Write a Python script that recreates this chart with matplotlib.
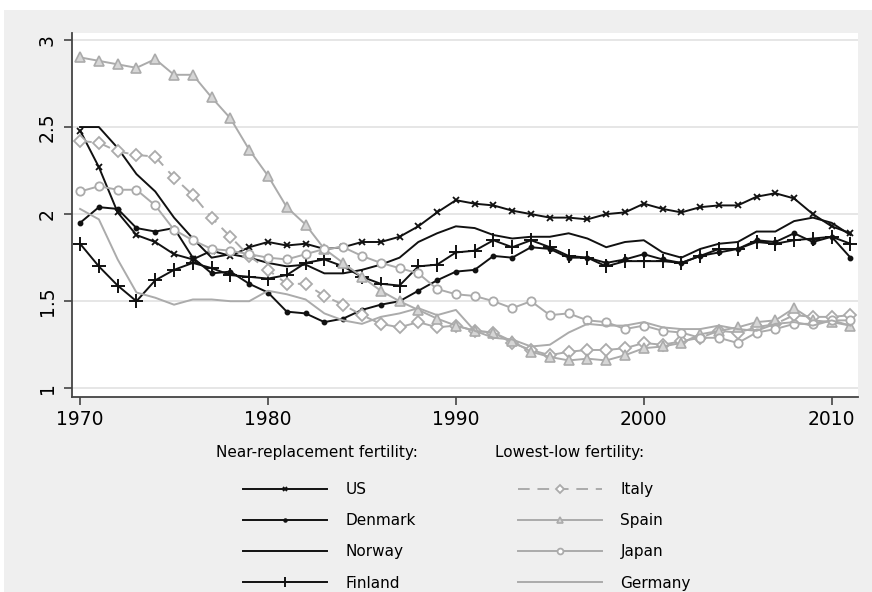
import matplotlib
matplotlib.use("Agg")
import matplotlib.pyplot as plt
from matplotlib.patches import Rectangle

plt.rcParams["font.family"] = ["DejaVu Sans"]

years = list(range(1970, 2012))

us = [2.48, 2.27, 2.01, 1.88, 1.84, 1.77, 1.74, 1.79, 1.76, 1.81,
      1.84, 1.82, 1.83, 1.80, 1.81, 1.84, 1.84, 1.87, 1.93, 2.01,
      2.08, 2.06, 2.05, 2.02, 2.00, 1.98, 1.98, 1.97, 2.00, 2.01,
      2.06, 2.03, 2.01, 2.04, 2.05, 2.05, 2.10, 2.12, 2.09, 2.00,
      1.93, 1.89]
denmark = [1.95, 2.04, 2.03, 1.92, 1.90, 1.92, 1.75, 1.66, 1.67, 1.60,
           1.55, 1.44, 1.43, 1.38, 1.40, 1.45, 1.48, 1.50, 1.56, 1.62,
           1.67, 1.68, 1.76, 1.75, 1.81, 1.80, 1.75, 1.75, 1.72, 1.74,
           1.77, 1.74, 1.72, 1.76, 1.78, 1.80, 1.85, 1.84, 1.89, 1.84,
           1.87, 1.75]
norway = [2.50, 2.50, 2.38, 2.23, 2.13, 1.98, 1.86, 1.75, 1.77, 1.75,
          1.72, 1.70, 1.71, 1.66, 1.66, 1.68, 1.71, 1.75, 1.84, 1.89,
          1.93, 1.92, 1.88, 1.86, 1.87, 1.87, 1.89, 1.86, 1.81, 1.84,
          1.85, 1.78, 1.75, 1.80, 1.83, 1.84, 1.90, 1.90, 1.96, 1.98,
          1.95, 1.88]
finland = [1.83, 1.70, 1.59, 1.50, 1.62, 1.68, 1.72, 1.69, 1.65, 1.64,
           1.63, 1.65, 1.72, 1.74, 1.70, 1.64, 1.60, 1.59, 1.70, 1.71,
           1.78, 1.79, 1.85, 1.81, 1.85, 1.81, 1.76, 1.75, 1.70, 1.73,
           1.73, 1.73, 1.72, 1.76, 1.80, 1.80, 1.84, 1.83, 1.85, 1.86,
           1.87, 1.83]
italy = [2.42, 2.41, 2.36, 2.34, 2.33, 2.21, 2.11, 1.98, 1.87, 1.76,
         1.68, 1.60, 1.60, 1.53, 1.48, 1.42, 1.37, 1.35, 1.38, 1.35,
         1.36, 1.33, 1.32, 1.26, 1.22, 1.19, 1.21, 1.22, 1.22, 1.23,
         1.26, 1.25, 1.27, 1.29, 1.33, 1.32, 1.35, 1.37, 1.42, 1.41,
         1.41, 1.42]
spain = [2.90, 2.88, 2.86, 2.84, 2.89, 2.80, 2.80, 2.67, 2.55, 2.37,
         2.22, 2.04, 1.94, 1.80, 1.72, 1.64, 1.56, 1.50, 1.45, 1.40,
         1.36, 1.33, 1.32, 1.27, 1.21, 1.18, 1.16, 1.17, 1.16, 1.19,
         1.23, 1.24, 1.26, 1.31, 1.33, 1.35, 1.38, 1.39, 1.46, 1.39,
         1.38, 1.36]
japan = [2.13, 2.16, 2.14, 2.14, 2.05, 1.91, 1.85, 1.80, 1.79, 1.77,
         1.75, 1.74, 1.77, 1.80, 1.81, 1.76, 1.72, 1.69, 1.66, 1.57,
         1.54, 1.53, 1.50, 1.46, 1.50, 1.42, 1.43, 1.39, 1.38, 1.34,
         1.36, 1.33, 1.32, 1.29, 1.29, 1.26, 1.32, 1.34, 1.37, 1.37,
         1.39, 1.39]
germany = [2.03, 1.97, 1.74, 1.55, 1.52, 1.48, 1.51, 1.51, 1.50, 1.50,
           1.56, 1.54, 1.51, 1.43, 1.39, 1.37, 1.41, 1.43, 1.46, 1.42,
           1.45, 1.33, 1.29, 1.28, 1.24, 1.25, 1.32, 1.37, 1.36, 1.36,
           1.38, 1.35, 1.34, 1.34, 1.36, 1.34, 1.33, 1.37, 1.38, 1.36,
           1.39, 1.36]

near_names = ["US", "Denmark", "Norway", "Finland"]
low_names = ["Italy", "Spain", "Japan", "Germany"]
xticks = [1970, 1980, 1990, 2000, 2010]
yticks = [1, 1.5, 2, 2.5, 3]
ytick_labels = ["1", "1.5", "2", "2.5", "3"]

BLACK = "#111111"
GRAY = "#ababab"
BG = "#efefef"

fig = plt.figure(figsize=(8.72, 5.92), dpi=100, facecolor="white")
fig.patches.append(Rectangle((4 / 872, 0), 1, 1 - 10 / 592, transform=fig.transFigure,
                             facecolor=BG, edgecolor="none", zorder=-10))
ax = fig.add_axes([72 / 872, 1 - 397 / 592, (858 - 72) / 872, (397 - 33) / 592])
ax.set_facecolor("white")

lw = 1.4
near_lines = [
    ax.plot(years, us, color=BLACK, lw=lw, marker="x", ms=5, mew=1.3)[0],
    ax.plot(years, denmark, color=BLACK, lw=lw, marker="o", ms=3.2)[0],
    ax.plot(years, norway, color=BLACK, lw=lw)[0],
    ax.plot(years, finland, color=BLACK, lw=lw, marker="+", ms=10, mew=1.4)[0],
]
low_lines = [
    ax.plot(years, italy, color=GRAY, lw=lw, ls=(0, (6, 4)), marker="D", ms=6,
            mfc="white", mec=GRAY, mew=1.3)[0],
    ax.plot(years, spain, color=GRAY, lw=lw, marker="^", ms=7,
            mfc="#d6d6d6", mec=GRAY, mew=1.2)[0],
    ax.plot(years, japan, color=GRAY, lw=lw, marker="o", ms=6,
            mfc="white", mec=GRAY, mew=1.3)[0],
    ax.plot(years, germany, color=GRAY, lw=lw)[0],
]

ax.set_xlim(1969.57, 2011.4)
ax.set_ylim(0.95, 3.04)
ax.set_xticks(xticks)
ax.set_yticks(yticks)
ax.set_yticklabels(ytick_labels, rotation=90, va="center")
ax.tick_params(axis="both", labelsize=13.5, length=6, width=1.2, color="#444444",
               direction="out")
ax.tick_params(axis="y", pad=5)
ax.grid(axis="y", color="#e4e4e4", lw=1.3)
ax.set_axisbelow(True)
for side in ["top", "right"]:
    ax.spines[side].set_visible(False)
for side in ["left", "bottom"]:
    ax.spines[side].set_color("#444444")
    ax.spines[side].set_linewidth(1.3)

# legend: two titled columns below the plot
fig.text(216 / 872, 1 - 453 / 592, "Near-replacement fertility:", fontsize=11,
         va="center", ha="left")
fig.text(495 / 872, 1 - 453 / 592, "Lowest-low fertility:", fontsize=11,
         va="center", ha="left")

leg_kw = dict(frameon=False, fontsize=11, handlelength=5.5, handletextpad=1.2,
              labelspacing=1.06, numpoints=1, markerscale=0.7,
              loc="upper left", borderaxespad=0, borderpad=0)
fig.legend(near_lines, near_names, bbox_to_anchor=(243 / 872, 1 - 482 / 592), **leg_kw)
fig.legend(low_lines, low_names, bbox_to_anchor=(518 / 872, 1 - 482 / 592), **leg_kw)

fig.savefig("out.png", dpi=100, facecolor=fig.get_facecolor())
